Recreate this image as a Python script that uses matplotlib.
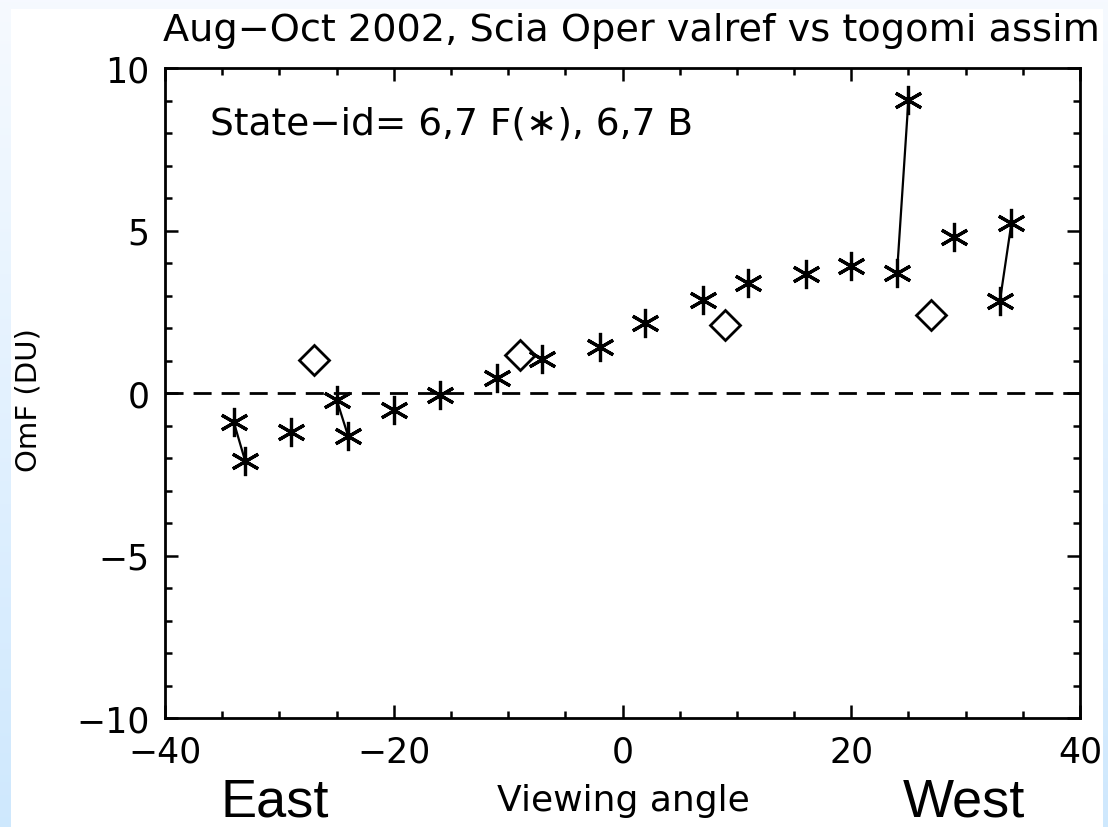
import numpy as np
import matplotlib
matplotlib.use("Agg")
from matplotlib import pyplot as plt
from matplotlib.patches import Rectangle

# OmF per viewing angle, forward scans (asterisks) and backward scans (diamonds)
fwd_angle = [-34, -33, -29, -25, -24, -20, -16, -11, -7, -2, 2, 7, 11, 16, 20, 24, 25, 29, 33, 34]
fwd_omf = [-0.88, -2.08, -1.20, -0.20, -1.31, -0.52, -0.06, 0.47, 1.04, 1.42,
           2.15, 2.85, 3.37, 3.67, 3.91, 3.69, 9.03, 4.81, 2.84, 5.22]
bwd_angle = [-27, -9, 9, 27]
bwd_omf = [1.02, 1.18, 2.09, 2.41]
# forward points joined by a line (same state, two pixels)
pairs = [(0, 1), (3, 4), (15, 16), (18, 19)]

x_ticks = [-40, -20, 0, 20, 40]
y_ticks = [-10, -5, 0, 5, 10]

W, H = 1108, 828
fig = plt.figure(figsize=(W / 100, H / 100), dpi=100)

# light blue slide background with a white panel on it
bg = fig.add_axes([0, 0, 1, 1])
grad = np.linspace(0, 1, 256).reshape(-1, 1)
top_col = np.array([0.965, 0.980, 1.0])
bot_col = np.array([0.810, 0.910, 0.995])
img = top_col[None, None, :] * (1 - grad[:, :, None]) + bot_col[None, None, :] * grad[:, :, None]
bg.imshow(img, aspect='auto', extent=[0, 1, 0, 1], origin='upper')
bg.add_patch(Rectangle((11 / W, 0), (1103 - 11) / W, 1 - 10 / H, color='white', lw=0))
bg.set_xlim(0, 1)
bg.set_ylim(0, 1)
bg.axis('off')

ax = fig.add_axes([165 / W, 1 - 719 / H, (1080 - 165) / W, (719 - 69) / H])
ax.set_facecolor('none')

ax.axhline(0, color='black', lw=2, dashes=(6.5, 3.6), zorder=1)

for i, j in pairs:
    ax.plot([fwd_angle[i], fwd_angle[j]], [fwd_omf[i], fwd_omf[j]],
            color='black', lw=1.6, zorder=2)

ax.plot(fwd_angle, fwd_omf, ls='none', marker=(6, 2, 0), ms=21,
        mec='black', mew=2.3, zorder=3)
ax.plot(bwd_angle, bwd_omf, ls='none', marker='D', ms=15.5,
        mfc='none', mec='black', mew=2.0, zorder=3)

ax.set_xlim(-40, 40)
ax.set_ylim(-10, 10)
ax.set_xticks(x_ticks)
ax.set_yticks(y_ticks)
ax.set_xticks(np.arange(-40, 41, 5), minor=True)
ax.set_yticks(np.arange(-10, 11, 1), minor=True)
ax.set_xticklabels([f"{v}".replace('-', '\u2212') for v in x_ticks])
ax.set_yticklabels([f"{v}".replace('-', '\u2212') for v in y_ticks])
ax.tick_params(which='both', direction='in', top=True, right=True, width=1.8)
ax.tick_params(which='major', length=9.5, labelsize=25)
ax.tick_params(axis='x', which='major', pad=12)
ax.tick_params(axis='y', which='major', pad=11)
ax.tick_params(which='minor', length=5)
for s in ax.spines.values():
    s.set_linewidth(2)

ax.text(210 / W, 1 - 125 / H, "State\u2212id= 6,7 F(\u2217), 6,7 B", transform=fig.transFigure,
        fontsize=27, ha='left', va='center')

fig.text(163 / W, 1 - 31 / H, "Aug\u2212Oct 2002, Scia Oper valref vs togomi assim",
         fontsize=27.5, ha='left', va='center')
fig.text(29 / W, 1 - 400 / H, "OmF (DU)", fontsize=21, rotation=90, ha='center', va='center')
fig.text(623 / W, 1 - 811 / H, "Viewing angle", fontsize=26, ha='center', va='baseline')
side_font = ['Liberation Sans Narrow', 'Liberation Sans', 'DejaVu Sans']
fig.text(275 / W, 1 - 817 / H, "East", fontsize=39, family=side_font, ha='center', va='baseline')
fig.text(964 / W, 1 - 817 / H, "West", fontsize=39, family=side_font, ha='center', va='baseline')

fig.savefig("out.png", dpi=100)
